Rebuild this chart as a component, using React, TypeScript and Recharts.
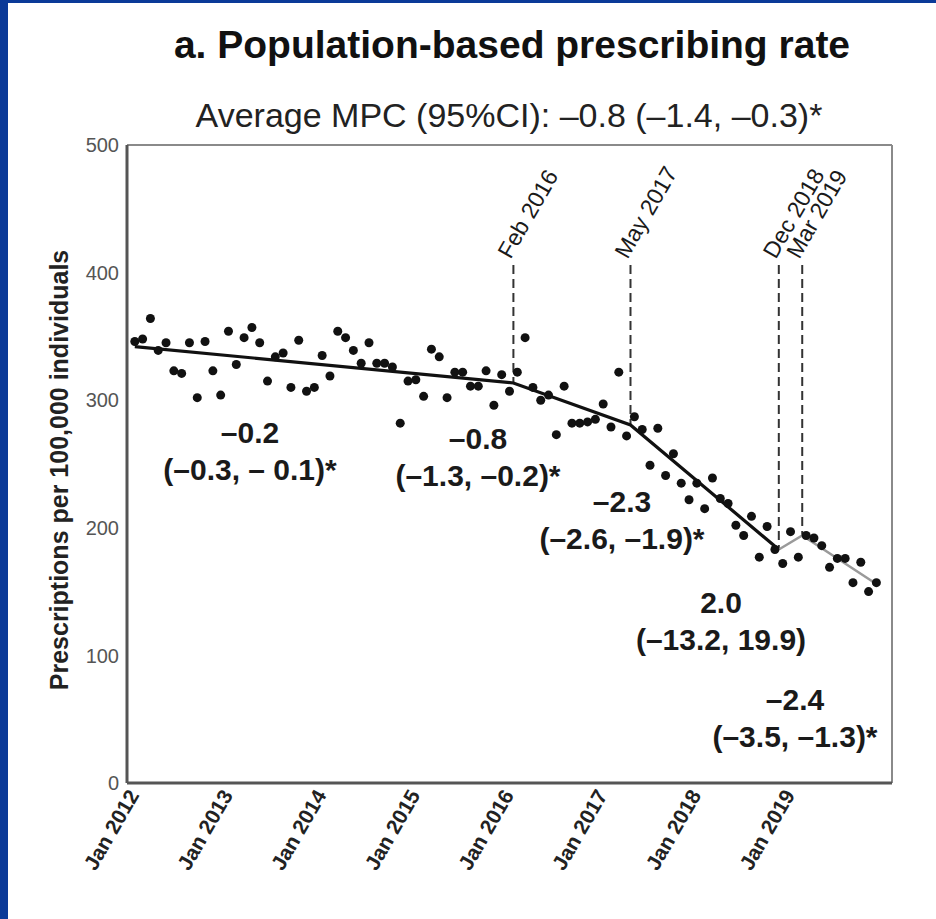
import React from 'react';
import {
  ComposedChart,
  Scatter,
  Line,
  XAxis,
  YAxis,
  ReferenceLine,
} from 'recharts';

// Monthly prescribing rate per 100,000, Jan 2012 .. Dec 2019 (month index 0..95)
const monthlyRates = [
  346, 348, 364, 339, 345, 323, 321, 345, 302, 346, 323, 304,
  354, 328, 349, 357, 345, 315, 334, 337, 310, 347, 307, 310,
  335, 319, 354, 349, 339, 329, 345, 329, 329, 326, 282, 315,
  316, 303, 340, 334, 302, 322, 322, 311, 311, 323, 296, 320,
  307, 322, 349, 310, 300, 304, 273, 311, 282, 282, 283, 285,
  297, 279, 322, 272, 287, 277, 249, 278, 241, 258, 235, 222,
  235, 215, 239, 223, 219, 202, 194, 209, 177, 201, 183, 172,
  197, 177, 194, 192, 186, 169, 176, 176, 157, 173, 150, 157,
];

const yearTicks = [0, 12, 24, 36, 48, 60, 72, 84];
const yearLabels = ['Jan 2012', 'Jan 2013', 'Jan 2014', 'Jan 2015', 'Jan 2016', 'Jan 2017', 'Jan 2018', 'Jan 2019'];
const rateTicks = [0, 100, 200, 300, 400, 500];

// segmented regression fit, knots at the interventions
const fitBreaks = [0, 48.5, 63.5, 82.5];
const fitValues = [342, 313.5, 280.6, 183];
const lateBreaks = [82.5, 85.5, 95];
const lateValues = [183, 194, 156];

const interventionNames = ['Feb 2016', 'May 2017', 'Dec 2018', 'Mar 2019'];
const interventionAt = [48.5, 63.5, 82.5, 85.5];
const interventionFit = [313.5, 280.6, 183, 194];
const markerTop = 406;

const slopeEstimates = ['–0.2', '–0.8', '–2.3', '2.0', '–2.4'];
const slopeIntervals = ['(–0.3, – 0.1)*', '(–1.3, –0.2)*', '(–2.6, –1.9)*', '(–13.2, 19.9)', '(–3.5, –1.3)*'];

const points = monthlyRates.map((v, i) => ({ i, v }));
const fitMain = fitBreaks.map((i, k) => ({ i, v: fitValues[k] }));
const fitLate = lateBreaks.map((i, k) => ({ i, v: lateValues[k] }));

const FONT = '"Liberation Sans", Arial, Helvetica, sans-serif';
const notePos = [
  [250, 443],
  [478, 449],
  [622, 512],
  [721, 613],
  [795, 710],
];

const MonthTick = (props: any) => {
  const { x, y, payload } = props;
  const tx = x + 5;
  const ty = y + 4;
  return (
    <text
      x={tx}
      y={ty}
      transform={`rotate(-60 ${tx} ${ty})`}
      textAnchor="end"
      fontSize={21}
      fontWeight="bold"
      fill="#222"
      fontFamily={FONT}
    >
      {yearLabels[yearTicks.indexOf(payload.value)]}
    </text>
  );
};

const markerLabel = (name: string) => (props: any) => {
  const vb = props.viewBox || {};
  const tx = vb.x - 3;
  const ty = vb.y - 5;
  return (
    <text
      x={tx}
      y={ty}
      transform={`rotate(-60 ${tx} ${ty})`}
      fontSize={23}
      fill="#1a1a1a"
      fontFamily={FONT}
    >
      {name}
    </text>
  );
};

const Dot = (props: any) => <circle cx={props.cx} cy={props.cy} r={4.5} fill="#111" />;

export default function App() {
  return (
    <div style={{ position: 'absolute', left: 0, top: 0, width: 936, height: 919, background: '#fff', overflow: 'hidden' }}>
      <ComposedChart width={936} height={919} margin={{ top: 145, right: 44, bottom: 0, left: 67 }}>
        <XAxis
          type="number"
          dataKey="i"
          domain={[-1, 97]}
          ticks={yearTicks}
          tick={<MonthTick />}
          tickLine={false}
          height={136}
          axisLine={{ stroke: '#555', strokeWidth: 3 }}
          allowDataOverflow
        />
        <YAxis
          type="number"
          dataKey="v"
          domain={[0, 500]}
          ticks={rateTicks}
          width={60}
          tickLine={false}
          tickMargin={2}
          axisLine={{ stroke: '#555', strokeWidth: 3 }}
          tick={{ fontSize: 20, fill: '#555', fontFamily: FONT }}
        />
        <ReferenceLine y={500} stroke="#8a8a8a" strokeWidth={2} />
        <ReferenceLine x={97} stroke="#8a8a8a" strokeWidth={2} />
        {interventionNames.map((name, k) => (
          <ReferenceLine
            key={name}
            segment={[
              { x: interventionAt[k], y: markerTop },
              { x: interventionAt[k], y: interventionFit[k] },
            ]}
            stroke="#333"
            strokeWidth={2}
            strokeDasharray="9 5"
            label={{ content: markerLabel(name) }}
          />
        ))}
        <Scatter data={points} shape={<Dot />} isAnimationActive={false} />
        <Line data={fitMain} dataKey="v" stroke="#111" strokeWidth={3.2} dot={false} isAnimationActive={false} />
        <Line data={fitLate} dataKey="v" stroke="#9a9a9a" strokeWidth={2.5} dot={false} isAnimationActive={false} />
      </ComposedChart>

      <svg width={936} height={919} style={{ position: 'absolute', left: 0, top: 0, pointerEvents: 'none' }}>
        <rect x={0} y={0} width={8} height={919} fill="#0b3a98" />
        <rect x={0} y={0} width={936} height={3} fill="#0b3a98" />
        <text x={512} y={58} textAnchor="middle" fontSize={39} fontWeight="bold" fill="#111" fontFamily={FONT}>
          a. Population-based prescribing rate
        </text>
        <text x={509} y={127} textAnchor="middle" fontSize={34} fill="#222" fontFamily={FONT}>
          Average MPC (95%CI): –0.8 (–1.4, –0.3)*
        </text>
        <text
          x={68}
          y={470}
          transform="rotate(-90 68 470)"
          textAnchor="middle"
          fontSize={25}
          fontWeight="bold"
          fill="#222"
          fontFamily={FONT}
        >
          Prescriptions per 100,000 individuals
        </text>
        {slopeEstimates.map((est, k) => (
          <g key={k} fontFamily={FONT} fontWeight="bold" fontSize={30} fill="#1a1a1a" textAnchor="middle">
            <text x={notePos[k][0]} y={notePos[k][1]}>{est}</text>
            <text x={notePos[k][0]} y={notePos[k][1] + 37}>{slopeIntervals[k]}</text>
          </g>
        ))}
      </svg>
    </div>
  );
}
